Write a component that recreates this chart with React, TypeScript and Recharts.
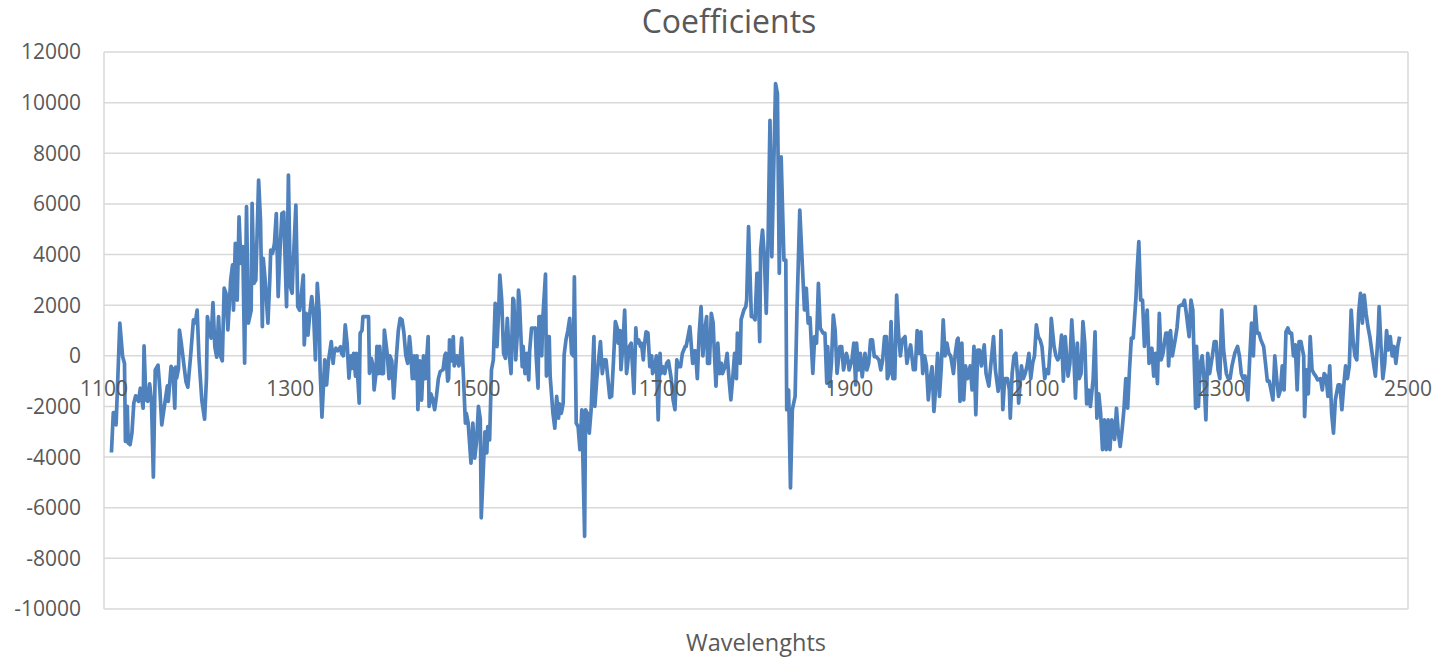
import React from 'react';
import { LineChart, Line, XAxis, YAxis, CartesianGrid, ReferenceDot } from 'recharts';

// Wavelength (nm) of each sample
const wavelengths = [
  1108, 1110, 1112, 1113, 1117, 1120, 1122, 1123, 1125, 1126,
  1128, 1130, 1132, 1134, 1136, 1137, 1139, 1142, 1143, 1145,
  1147, 1149, 1151, 1153, 1155, 1158, 1160, 1162, 1164, 1166,
  1168, 1169, 1172, 1174, 1176, 1177, 1178, 1180, 1181, 1183,
  1186, 1188, 1190, 1193, 1196, 1198, 1200, 1202, 1205, 1208,
  1210, 1211, 1213, 1215, 1217, 1219, 1221, 1223, 1225, 1227,
  1229, 1231, 1233, 1236, 1238, 1239, 1241, 1243, 1245, 1247,
  1249, 1251, 1253, 1255, 1258, 1259, 1261, 1263, 1266, 1268,
  1270, 1271, 1273, 1276, 1278, 1279, 1281, 1283, 1285, 1287,
  1289, 1291, 1293, 1295, 1296, 1298, 1300, 1302, 1303, 1306,
  1308, 1310, 1312, 1314, 1315, 1317, 1319, 1321, 1323, 1325,
  1327, 1329, 1331, 1332, 1334, 1336, 1337, 1339, 1341, 1344,
  1346, 1347, 1349, 1351, 1354, 1355, 1357, 1359, 1361, 1363,
  1365, 1366, 1368, 1370, 1371, 1374, 1375, 1377, 1378, 1381,
  1384, 1385, 1387, 1389, 1390, 1392, 1393, 1395, 1396, 1398,
  1400, 1401, 1404, 1406, 1407, 1409, 1411, 1414, 1416, 1418,
  1420, 1422, 1424, 1426, 1428, 1429, 1431, 1433, 1434, 1436,
  1437, 1439, 1441, 1443, 1445, 1448, 1449, 1451, 1453, 1455,
  1457, 1459, 1461, 1464, 1466, 1467, 1469, 1470, 1471, 1473,
  1475, 1476, 1479, 1481, 1482, 1484, 1486, 1488, 1489, 1491,
  1494, 1496, 1498, 1500, 1502, 1504, 1505, 1509, 1511, 1512,
  1514, 1516, 1518, 1520, 1522, 1524, 1525, 1527, 1529, 1531,
  1533, 1535, 1537, 1539, 1540, 1542, 1544, 1545, 1546, 1549,
  1550, 1552, 1554, 1556, 1557, 1559, 1561, 1563, 1564, 1566,
  1567, 1569, 1570, 1571, 1574, 1575, 1576, 1578, 1579, 1582,
  1584, 1586, 1588, 1589, 1591, 1593, 1594, 1596, 1598, 1600,
  1602, 1604, 1605, 1607, 1609, 1611, 1613, 1616, 1617, 1619,
  1621, 1623, 1626, 1627, 1629, 1631, 1633, 1635, 1637, 1639,
  1641, 1643, 1645, 1647, 1649, 1651, 1652, 1654, 1655, 1657,
  1659, 1661, 1662, 1664, 1666, 1669, 1671, 1672, 1674, 1676,
  1677, 1679, 1680, 1682, 1684, 1686, 1688, 1689, 1691, 1693,
  1695, 1697, 1698, 1700, 1702, 1704, 1706, 1709, 1711, 1713,
  1715, 1717, 1719, 1720, 1721, 1724, 1725, 1727, 1729, 1732,
  1734, 1735, 1737, 1739, 1741, 1743, 1745, 1747, 1748, 1750,
  1752, 1754, 1755, 1757, 1759, 1761, 1763, 1764, 1767, 1769,
  1771, 1773, 1775, 1777, 1779, 1780, 1783, 1784, 1787, 1789,
  1790, 1792, 1795, 1797, 1799, 1801, 1802, 1804, 1805, 1807,
  1809, 1811, 1813, 1815, 1817, 1819, 1821, 1823, 1825, 1827,
  1830, 1832, 1833, 1835, 1837, 1839, 1842, 1844, 1847, 1850,
  1852, 1854, 1856, 1858, 1861, 1863, 1865, 1867, 1869, 1872,
  1874, 1876, 1877, 1879, 1881, 1883, 1885, 1887, 1890, 1892,
  1894, 1897, 1899, 1900, 1903, 1905, 1907, 1908, 1910, 1912,
  1914, 1917, 1919, 1921, 1923, 1925, 1927, 1929, 1932, 1934,
  1936, 1938, 1940, 1941, 1943, 1945, 1947, 1949, 1951, 1953,
  1955, 1957, 1960, 1962, 1964, 1966, 1969, 1971, 1973, 1975,
  1977, 1979, 1981, 1983, 1985, 1987, 1989, 1991, 1992, 1995,
  1997, 1999, 2001, 2003, 2005, 2007, 2009, 2012, 2014, 2016,
  2017, 2019, 2021, 2023, 2025, 2027, 2030, 2032, 2034, 2036,
  2038, 2040, 2042, 2045, 2047, 2050, 2052, 2055, 2057, 2060,
  2062, 2063, 2065, 2067, 2070, 2072, 2073, 2075, 2077, 2079,
  2081, 2082, 2085, 2087, 2089, 2091, 2093, 2095, 2097, 2099,
  2101, 2103, 2105, 2107, 2110, 2112, 2114, 2116, 2117, 2120,
  2122, 2124, 2126, 2128, 2130, 2132, 2135, 2137, 2139, 2141,
  2143, 2145, 2147, 2149, 2151, 2153, 2155, 2157, 2159, 2162,
  2164, 2166, 2168, 2170, 2172, 2174, 2176, 2178, 2180, 2182,
  2185, 2187, 2189, 2191, 2193, 2195, 2197, 2199, 2201, 2203,
  2205, 2208, 2209, 2211, 2213, 2215, 2217, 2218, 2220, 2222,
  2225, 2227, 2229, 2231, 2233, 2235, 2237, 2240, 2242, 2243,
  2245, 2247, 2250, 2252, 2254, 2256, 2258, 2260, 2262, 2265,
  2267, 2269, 2270, 2272, 2273, 2275, 2277, 2279, 2281, 2283,
  2285, 2287, 2290, 2292, 2294, 2296, 2298, 2300, 2302, 2305,
  2307, 2309, 2311, 2314, 2317, 2319, 2321, 2323, 2325, 2328,
  2330, 2332, 2334, 2336, 2338, 2340, 2342, 2345, 2347, 2349,
  2351, 2355, 2357, 2359, 2361, 2363, 2365, 2367, 2369, 2371,
  2373, 2375, 2377, 2379, 2381, 2383, 2385, 2388, 2389, 2391,
  2393, 2395, 2397, 2399, 2401, 2403, 2406, 2408, 2410, 2412,
  2414, 2416, 2418, 2420, 2422, 2425, 2427, 2429, 2431, 2433,
  2435, 2437, 2439, 2441, 2443, 2445, 2447, 2449, 2451, 2453,
  2455, 2457, 2459, 2461, 2463, 2465, 2468, 2469, 2471, 2473,
  2475, 2477, 2479, 2481, 2483, 2485, 2487, 2489, 2491,
];

// Regression coefficient at each wavelength (same order as above)
const coefficients = [
  -3820, -2240, -2240, -2730, 1290, -30, -300, -3380, -2000, -3450,
  -3510, -3050, -1870, -1580, -1740, -1800, -1280, -2070, 390, -1740,
  -1800, -1110, -1800, -4790, -560, -370, -1350, -2730, -2200, -1700,
  -1190, -1800, -420, -550, -2070, -450, -880, -500, 1020, 500,
  -420, -1020, -1240, 0, 1420, 1300, 1810, -100, -1750, -2500,
  -900, 1550, 1000, 700, 2100, 360, -50, 1550, 0, -200,
  2670, 2470, 1020, 3000, 3590, 1800, 4440, 2200, 5490, 3650,
  4310, -290, 5890, 1290, 1800, 6020, 2860, 3000, 6940, 5360,
  1150, 3850, 3000, 1290, 3000, 4180, 4050, 4440, 5620, 2340,
  4180, 5620, 5670, 3120, 1940, 7140, 2730, 2470, 3520, 5950,
  1940, 1800, 2470, 3190, 430, 1680, 820, 1680, 2340, 1680,
  -160, 2860, 1680, -550, -2420, -900, -160, -1150, -200, 560,
  -300, 100, 300, 200, 360, 100, 0, 1220, 500, -880,
  0, -500, 100, -800, 100, -1870, 890, 1000, 1550, 1550,
  1550, -690, -100, -400, -1350, -700, 370, -700, 370, -700,
  -700, 1020, 100, -900, 0, -200, -1670, 0, 1000, 1480,
  1420, 900, 30, -300, 760, 370, -900, 0, -900, 0,
  -2130, -200, -1750, 0, -900, 760, -2000, -1500, -1740, -2130,
  -1580, -900, -620, -550, 30, 100, -1000, -900, 630, -200,
  760, -400, 0, -400, -300, 700, -900, -2660, -2270, -2660,
  -4240, -2660, -4040, -3400, -2000, -2500, -6400, -3000, -3830, -2800,
  -3320, -560, -160, 2070, 360, 2070, 3190, 2200, 100, -100,
  1480, 100, -700, 2270, 2200, -160, 1020, 2600, 2200, -430,
  370, -700, 100, -950, 200, 1090, 1090, 1100, 0, -1280,
  1550, 1550, 0, 1420, 3230, -800, 760, 760, -800, -2270,
  -2860, -1600, -2460, -1900, -2270, -1870, 30, 630, 1000, 1480,
  100, 0, 3120, -2660, -2800, -3710, -2130, -7130, -2130, -2270,
  -3050, -2130, 760, -2000, -950, -160, 560, -700, -160, -160,
  -900, -1650, -1600, -200, 1350, 1100, 500, 1000, -550, 370,
  1810, -700, -400, 370, 500, -1480, 1100, 500, 630, 370,
  500, -160, 370, 950, 900, -430, 0, -700, -550, 0,
  -2530, 100, -700, -430, -700, -300, -200, -900, -1740, -2130,
  -160, -430, -430, -160, 100, 370, 370, 760, 1150, -300,
  200, 200, -900, 890, 1940, 0, 1000, 1550, -300, -300,
  1680, 1300, 370, -1200, 500, -700, -300, -700, -400, 100,
  -900, -1740, -900, 100, -900, 900, -300, 1420, 1810, 1940,
  2200, 5100, 1550, 1550, 1420, 3260, 3260, 560, 4180, 4970,
  3910, 1680, 4570, 9300, 3910, 7330, 10750, 10360, 3260, 7860,
  3780, 3780, -2130, -1350, -5220, -2130, -1600, 1810, 5760, 3390,
  1810, 2670, 1290, 1500, -690, 760, 500, 2860, 1090, 900,
  900, -1080, 360, -1210, -290, 1610, 1000, -690, 360, 360,
  -560, 100, -200, -560, -160, 500, -1150, 500, -560, 100,
  -830, 100, -560, -300, 630, 630, -30, -30, -160, -560,
  -160, 760, 760, -900, -700, 1350, -900, -900, 2400, 900,
  0, 630, 760, -300, 100, 430, -550, -550, 1000, 100,
  950, -700, 0, -400, -1740, -900, -430, -2200, -1740, 100,
  -1600, -400, 1420, 0, 500, 100, 0, -700, 100, 630,
  700, -1800, 500, -1740, -400, -900, -400, -1350, 370, -2330,
  230, 230, -400, 430, -700, -1200, -400, 760, -550, -1400,
  -900, 1000, -2130, -900, -900, -1350, -2460, -700, 0, 100,
  -900, -1870, -400, -900, -700, -400, 100, -900, -300, 0,
  1220, 760, 630, 370, -900, -550, -700, 370, 1480, 370,
  0, -160, 0, 820, -1000, 760, -800, -300, 1420, 200,
  -1670, 500, -900, -700, 1350, 500, -1900, -1350, -2000, -900,
  950, -2460, -1500, -2270, -3710, -2530, -3710, -2530, -3710, -2530,
  -3300, -2070, -3050, -3580, -2930, -2130, -900, -2070, -550, 700,
  700, 2340, 3260, 4510, 2200, 2200, 370, 900, 1810, -300,
  300, -800, 100, -1100, 1680, -160, 100, 900, 900, -400,
  1000, 0, 630, 1100, 1940, 2000, 2000, 2200, 1680, 760,
  2200, 1810, 370, -2070, 370, -2000, -300, 0, -900, -2530,
  100, -700, 0, 560, 560, -550, -900, 1810, 230, -700,
  -900, -900, -400, 100, 370, 0, -700, -900, -800, -1740,
  -160, 1290, 0, 1940, 900, 900, 630, 370, -300, -1000,
  -1000, -1740, 0, -900, -1600, -1350, -400, -1350, 950, 1100,
  900, 900, 0, 430, -1350, 560, 560, 0, -2400, -550,
  -1500, 760, -550, -700, -800, -950, -900, -1350, -700, -800,
  -1600, -400, -2270, -3050, -1740, -1150, -1150, -2130, -1200, -400,
  -900, -400, 1810, 630, 0, -160, 1680, 2470, 1290, 2400,
  1680, 1150, 760, 230, -300, -800, 900, 1940, 370, -900,
  -300, 1000, 230, 760, 0, 370, -300, 370, 760,
];

const xTicks = [1100, 1300, 1500, 1700, 1900, 2100, 2300, 2500];
const yTicks = [-10000, -8000, -6000, -4000, -2000, 0, 2000, 4000, 6000, 8000, 10000, 12000];

const data = wavelengths.map((w, i) => ({ wavelength: w, coefficient: coefficients[i] }));

const FONT = '"Open Sans", sans-serif';
const TEXT = '#595959';
const GRID = '#d9d9d9';
const LINE = '#4F81BD';

export default function App() {
  return (
    <div
      style={{
        position: 'absolute',
        left: 0,
        top: 0,
        width: 1439,
        height: 657,
        background: '#ffffff',
        fontFamily: FONT,
      }}
    >
      <div
        style={{
          position: 'absolute',
          left: 0,
          top: -1,
          width: 1458,
          textAlign: 'center',
          fontSize: 32,
          color: TEXT,
          fontFamily: FONT,
        }}
      >
        Coefficients
      </div>
      <LineChart
        width={1439}
        height={657}
        data={data}
        margin={{ top: 52, right: 31, bottom: 0, left: 24 }}
      >
        <CartesianGrid stroke={GRID} strokeWidth={1.5} />
        <XAxis
          dataKey="wavelength"
          type="number"
          domain={[1100, 2500]}
          ticks={xTicks}
          tick={false}
          tickLine={false}
          axisLine={false}
          height={48}
          label={{
            value: 'Wavelenghts',
            position: 'insideBottom',
            offset: 6,
            fill: TEXT,
            fontSize: 23.5,
            fontFamily: FONT,
          }}
        />
        <YAxis
          type="number"
          domain={[-10000, 12000]}
          ticks={yTicks}
          interval={0}
          width={80}
          tickLine={false}
          axisLine={false}
          tickSize={6}
          tickMargin={17}
          tick={{ fill: TEXT, fontSize: 21, fontFamily: FONT }}
        />
        <Line
          type="linear"
          dataKey="coefficient"
          stroke={LINE}
          strokeWidth={3.7}
          strokeLinejoin="round"
          dot={false}
          isAnimationActive={false}
        />
        {xTicks.map((t) => (
          <ReferenceDot
            key={t}
            x={t}
            y={0}
            r={0}
            fill="none"
            stroke="none"
            label={{
              value: String(t),
              position: 'bottom',
              offset: 25,
              fill: TEXT,
              fontSize: 21,
              fontFamily: FONT,
            }}
          />
        ))}
      </LineChart>
    </div>
  );
}
